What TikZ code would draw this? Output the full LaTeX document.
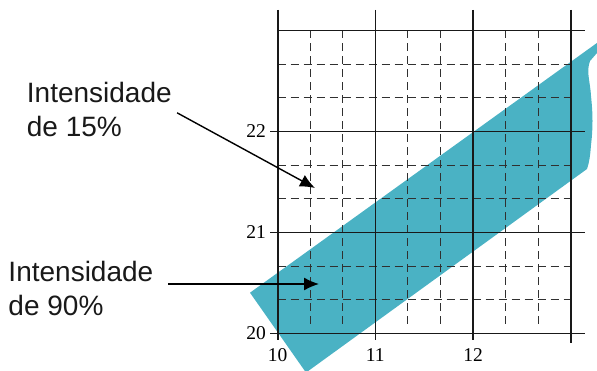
\documentclass[tikz,border=0pt]{standalone}
\usepackage{fontspec}
\setmainfont{Liberation Sans}
\newfontfamily\numfont{Liberation Serif}
\usetikzlibrary{arrows.meta}
\definecolor{bandcol}{RGB}{74,178,196}
\definecolor{ink}{RGB}{25,25,25}
\begin{document}
\begin{tikzpicture}[x=1pt,y=-1pt,
  major/.style={draw=ink,line width=1.7pt},
  minor/.style={draw=ink!90,line width=1.1pt,dash pattern=on 8pt off 5pt},
  num/.style={font=\numfont\fontsize{19.5}{19.5}\selectfont,inner sep=0pt},
  lab/.style={font=\fontsize{28}{34}\selectfont,align=left,inner sep=0pt,anchor=north west,text=ink},
  arr/.style={draw=black,line width=1.4pt,-{Latex[length=15pt,width=13pt]}}]
\useasboundingbox (0,0) rectangle (597,371);
% band
\begin{scope}
  \clip (0,0) rectangle (597,371);
  \fill[bandcol] (250,292.7) -- (599,41.5) -- (597,53) -- (590,61)
    .. controls (586,72) and (590,80) .. (591,96)
    .. controls (593,115) and (593,128) .. (591,145)
    .. controls (590,158) and (589,163) .. (587,169)
    -- (306,372.6) -- cycle;
\end{scope}
% minor grid
\foreach \k in {1,2,4,5,7,8}{
  \draw[minor] ({277.7+\k*97.67/3},30.5) -- ({277.7+\k*97.67/3},329);
  \draw[minor] (277.7,{333.5-\k*101/3}) -- (570.7,{333.5-\k*101/3});
}
% major grid
\draw[major] (277.7,30.5) -- (585,30.5);
\foreach \j in {0,1,2}{
  \draw[major] (270,{333.5-\j*101}) -- (585,{333.5-\j*101});
}
\foreach \i in {0,1,2}{
  \draw[major] ({277.7+\i*97.67},10) -- ({277.7+\i*97.67},340);
}
\draw[major] (570.7,10) -- (570.7,343);
% axis numbers
\node[num,anchor=east] (y20) at (266,333.5) {20};
\node[num,anchor=east] (y21) at (266,232.5) {21};
\node[num,anchor=east] (y22) at (266,131.5) {22};
\node[num] (x10) at (277.7,355) {10};
\node[num] (x11) at (375.3,355) {11};
\node[num] (x12) at (473,355) {12};
% labels and arrows
\node[lab] (t1) at (26.7,82.5) {Intensidade\\de 15\%};
\node[lab] (t2) at (8.3,261) {Intensidade\\de 90\%};
\coordinate (p1) at (315,188);
\coordinate (p2) at (319,284);
\draw[arr,shorten <=6pt] (t1.east) -- (p1);
\draw[arr,shorten <=15pt] (t2.east |- p2) -- (p2);
\end{tikzpicture}
\end{document}
